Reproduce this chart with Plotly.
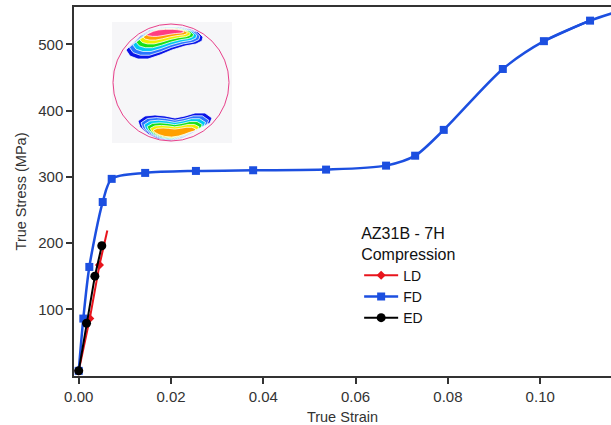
import plotly.graph_objects as go

# ---------------- data ----------------
fd_strain = [0.0, 0.0010, 0.0023, 0.0052, 0.00715, 0.0144, 0.0254, 0.0378, 0.0536, 0.0666, 0.0729, 0.0791, 0.0919, 0.1008, 0.1108]
fd_stress = [7, 86, 164, 262, 297, 306, 309, 310, 311, 317, 332, 371, 463, 505, 536]
fd_tail_strain = [0.1008, 0.1108, 0.1160]
fd_tail_stress = [505, 536, 548]

ld_strain = [0.0, 0.0024, 0.0045]
ld_stress = [7, 86, 167]
ld_tail_strain = [0.0045, 0.0062]
ld_tail_stress = [167, 219]

ed_strain = [0.0, 0.0017, 0.0035, 0.0050]
ed_stress = [7, 79, 150, 196]

x_ticks = [0.0, 0.02, 0.04, 0.06, 0.08, 0.10]
x_ticktext = ["0.00", "0.02", "0.04", "0.06", "0.08", "0.10"]
y_ticks = [100, 200, 300, 400, 500]

# ---------------- figure ----------------
W, H = 611, 425
ML, MR, MT, MB = 74, 0, 7, 49
PW, PH = W - ML - MR, H - MT - MB

RED = "#e8141c"
BLUE = "#1c4fe0"
BLACK = "#000000"
FONT = "Liberation Sans, Arial, sans-serif"

fig = go.Figure()

fig.add_trace(go.Scatter(x=ld_tail_strain, y=ld_tail_stress, mode="lines",
                         line=dict(color=RED, width=2), showlegend=False, hoverinfo="skip"))
fig.add_trace(go.Scatter(x=ld_strain, y=ld_stress, mode="lines+markers", name="LD",
                         line=dict(color=RED, width=2),
                         marker=dict(symbol="diamond", size=7, color=RED)))
fig.add_trace(go.Scatter(x=fd_tail_strain, y=fd_tail_stress, mode="lines",
                         line=dict(color=BLUE, width=2.5, shape="spline", smoothing=0.8),
                         showlegend=False, hoverinfo="skip"))
fig.add_trace(go.Scatter(x=fd_strain, y=fd_stress, mode="lines+markers", name="FD",
                         line=dict(color=BLUE, width=2.5, shape="spline", smoothing=0.8),
                         marker=dict(symbol="square", size=8, color=BLUE)))
fig.add_trace(go.Scatter(x=ed_strain, y=ed_stress, mode="lines+markers", name="ED",
                         line=dict(color=BLACK, width=2),
                         marker=dict(symbol="circle", size=9, color=BLACK)))

# ---------------- inset pole figure (decoration) ----------------
def pp(x, y):
    return ((x - ML) / PW, (H - MB - y) / PH)

def path_from(points):
    s = []
    for i, (x, y) in enumerate(points):
        px, py = pp(x, y)
        s.append(("M" if i == 0 else "L") + f"{px:.5f},{py:.5f}")
    return " ".join(s) + " Z"

shapes = []
bx0, by0 = pp(112, 22)
bx1, by1 = pp(232, 143)
shapes.append(dict(type="rect", xref="paper", yref="paper", x0=bx0, y0=by1, x1=bx1, y1=by0,
                   fillcolor="#f6f6f8", line=dict(width=0), layer="above"))

top_blob = [(126, 50), (133, 43), (140, 36), (150, 30), (165, 27), (180, 27), (190, 29),
            (198, 32), (203, 37), (202, 41), (196, 44), (185, 46), (172, 50), (160, 55),
            (148, 59), (138, 59), (130, 56)]
bot_blob = [(138, 121), (145, 116), (155, 115), (165, 116), (175, 118), (185, 116), (195, 113),
            (205, 113), (212, 118), (210, 123), (200, 128), (192, 133), (182, 138), (170, 141),
            (158, 139), (148, 134), (140, 127)]
top_colors = ["#0a14e6", "#2a74ff", "#00c8f0", "#18e018", "#f0f000", "#ffa000", "#ff3c82"]
bot_colors = ["#0a14e6", "#2a74ff", "#00c8f0", "#18e018", "#f0f000", "#ffa000"]

def nested(blob, anchor, colors):
    ax, ay = anchor
    for i, c in enumerate(colors):
        fx = 1 - 0.085 * i
        fy = 1 - 0.13 * i
        pts = [(ax + fx * (x - ax), ay + fy * (y - ay)) for x, y in blob]
        shapes.append(dict(type="path", xref="paper", yref="paper", path=path_from(pts),
                           fillcolor=c, line=dict(color="white", width=0.8), layer="above"))

nested(top_blob, (166, 30), top_colors)
nested(bot_blob, (174, 135), bot_colors)

cx0, cy0 = pp(113, 24)
cx1, cy1 = pp(229, 141)
shapes.append(dict(type="circle", xref="paper", yref="paper", x0=cx0, y0=cy1, x1=cx1, y1=cy0,
                   line=dict(color="#e8408a", width=1), layer="above"))

fig.update_layout(
    width=W, height=H,
    margin=dict(l=ML, r=MR, t=MT, b=MB),
    paper_bgcolor="white", plot_bgcolor="white",
    font=dict(family=FONT, color="#333333"),
    shapes=shapes,
    showlegend=True,
    legend=dict(
        x=0.531, y=0.428, xanchor="left", yanchor="top",
        bgcolor="rgba(0,0,0,0)",
        font=dict(size=14, color="#111111", family=FONT),
        title=dict(text="AZ31B - 7H<br>Compression", font=dict(size=16, color="#111111", family=FONT)),
        itemwidth=34,
    ),
    xaxis=dict(
        range=[-0.00102, 0.11534],
        tickvals=x_ticks, ticktext=x_ticktext,
        showline=True, linecolor="#333333", linewidth=1.5, mirror=True,
        ticks="outside", ticklen=6, tickwidth=1.5, tickcolor="#333333",
        showgrid=False, zeroline=False,
        tickfont=dict(size=15, color="#333333"),
        title=dict(text="True Strain", font=dict(size=14.5, color="#333333"), standoff=10),
    ),
    yaxis=dict(
        range=[-0.75, 556.6],
        tickvals=y_ticks,
        showline=True, linecolor="#333333", linewidth=1.5,
        ticks="outside", ticklen=6, tickwidth=1.5, tickcolor="#333333",
        showgrid=False, zeroline=False,
        tickfont=dict(size=15, color="#333333"),
        title=dict(text="True Stress (MPa)", font=dict(size=14.5, color="#333333"), standoff=8),
    ),
)

fig.write_html("out.html")
